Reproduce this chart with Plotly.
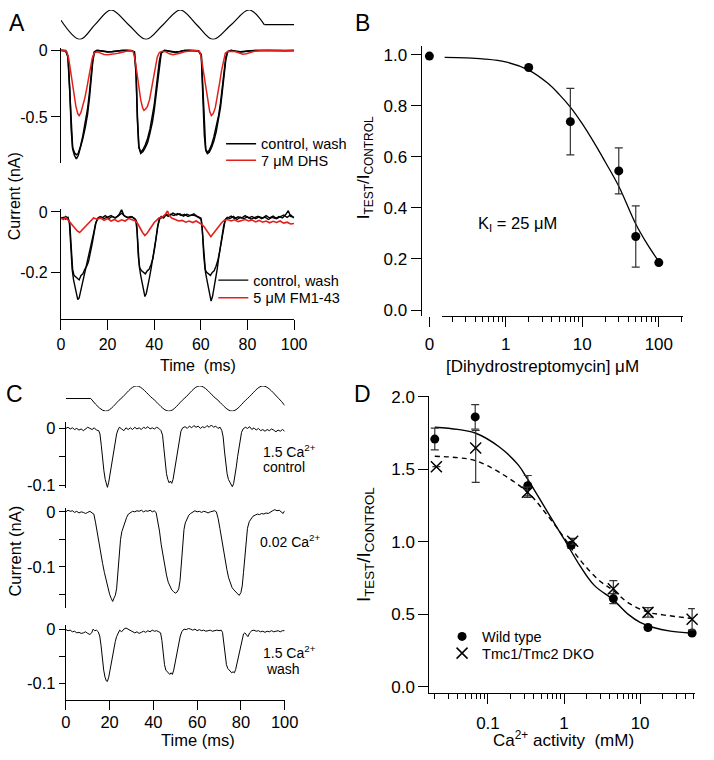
import plotly.graph_objects as go

# ---------------------------------------------------------------- data
# Panel A: stimulus (relative displacement), time in ms
STIM_A = [(0, 0.3), (8.1, -1), (14.6, 0), (21.5, 1), (29.0, 0), (36.5, -1), (43.8, 0),
          (51.2, 1), (58.2, 0), (65.2, -1), (73.0, 0), (80.7, 1), (87.2, 0), (100, 0)]

# Panel A top: currents (nA) – control, wash, 7 uM DHS
DHS_CTRL = [(0, 0.002), (2, -0.003), (3.0, -0.04), (3.8, -0.3), (4.4, -0.6), (5.0, -0.74), (5.8, -0.79),
            (6.6, -0.815), (7.4, -0.79), (8.4, -0.73), (9.4, -0.66), (10.4, -0.58), (11.4, -0.48),
            (12.2, -0.36), (13.0, -0.2), (13.6, -0.09), (14.3, -0.015), (15.5, 0.0), (18, -0.005),
            (20, -0.012), (22, -0.01), (24, -0.004), (26, 0.0), (28, 0.002), (30, 0.0), (31.5, -0.01),
            (32.2, -0.15), (32.8, -0.5), (33.4, -0.72), (34.2, -0.775), (35.2, -0.76), (36.2, -0.73),
            (37.2, -0.69), (38.2, -0.62), (39.2, -0.54), (40.0, -0.45), (40.8, -0.33), (41.6, -0.2),
            (42.2, -0.1), (43.0, -0.02), (44.5, 0.0), (47, -0.008), (49, -0.014), (51, -0.008),
            (53, 0.0), (55, 0.002), (57, 0.0), (59, -0.002), (60.2, -0.03), (60.9, -0.3), (61.5, -0.62),
            (62.1, -0.75), (62.8, -0.775), (63.6, -0.765), (64.6, -0.73), (65.6, -0.68), (66.6, -0.61),
            (67.6, -0.52), (68.4, -0.43), (69.2, -0.31), (70.0, -0.18), (70.7, -0.07), (71.5, -0.01),
            (73, 0.0), (75, -0.006), (77, -0.012), (79, -0.008), (81, -0.002), (84, 0.0), (87, 0.002),
            (90, 0.0), (93, 0.001), (96, -0.002), (100, 0.0)]
DHS_WASH = [(0, 0.0), (2, 0.0), (3.0, -0.05), (3.8, -0.33), (4.4, -0.62), (5.0, -0.73), (5.8, -0.77),
            (6.6, -0.785), (7.4, -0.775), (8.4, -0.72), (9.4, -0.64), (10.4, -0.55), (11.4, -0.44),
            (12.2, -0.32), (13.0, -0.17), (13.6, -0.07), (14.3, -0.01), (15.5, 0.002), (18, -0.004),
            (20, -0.01), (22, -0.008), (24, -0.003), (26, 0.001), (28, 0.0), (30, -0.001), (31.5, -0.012),
            (32.2, -0.18), (32.8, -0.53), (33.4, -0.73), (34.2, -0.765), (35.2, -0.745), (36.2, -0.71),
            (37.2, -0.66), (38.2, -0.59), (39.2, -0.5), (40.0, -0.41), (40.8, -0.29), (41.6, -0.17),
            (42.2, -0.08), (43.0, -0.015), (44.5, 0.001), (47, -0.006), (49, -0.012), (51, -0.007),
            (53, 0.001), (55, 0.0), (57, 0.001), (59, -0.003), (60.2, -0.04), (60.9, -0.33), (61.5, -0.64),
            (62.1, -0.745), (62.8, -0.765), (63.6, -0.75), (64.6, -0.71), (65.6, -0.65), (66.6, -0.58),
            (67.6, -0.49), (68.4, -0.4), (69.2, -0.28), (70.0, -0.15), (70.7, -0.05), (71.5, -0.008),
            (73, 0.001), (75, -0.005), (77, -0.01), (79, -0.006), (81, -0.001), (84, 0.001), (87, 0.0),
            (90, -0.001), (93, 0.0), (96, -0.001), (100, 0.001)]
DHS_DRUG = [(0, 0.002), (1.5, 0.0), (2.5, -0.01), (3.3, -0.06), (4.0, -0.14), (4.8, -0.24), (5.6, -0.34),
            (6.4, -0.42), (7.2, -0.475), (7.8, -0.49), (8.5, -0.47), (9.3, -0.42), (10.2, -0.36),
            (11.0, -0.29), (11.8, -0.21), (12.6, -0.13), (13.4, -0.06), (14.2, -0.02), (15.5, -0.01),
            (17, -0.02), (18.5, -0.03), (20, -0.032), (21.5, -0.03), (23, -0.025), (24.5, -0.02),
            (26, -0.012), (28, -0.005), (30, 0.0), (31.0, -0.01), (31.8, -0.07), (32.6, -0.17),
            (33.4, -0.28), (34.2, -0.37), (35.0, -0.43), (35.6, -0.45), (36.3, -0.44), (37.1, -0.42),
            (38.0, -0.37), (38.9, -0.29), (39.8, -0.2), (40.6, -0.12), (41.3, -0.05), (42.2, -0.015),
            (43.5, -0.005), (45, -0.01), (46.5, -0.025), (48, -0.032), (49.5, -0.028), (51, -0.02),
            (53, -0.01), (55, -0.003), (57, 0.0), (59, -0.003), (59.8, -0.02), (60.6, -0.1), (61.4, -0.2),
            (62.2, -0.3), (63.0, -0.39), (63.8, -0.46), (64.5, -0.49), (65.3, -0.475), (66.2, -0.43),
            (67.1, -0.35), (68.0, -0.25), (68.9, -0.15), (69.7, -0.07), (70.5, -0.02), (71.5, -0.008),
            (73, -0.006), (75, -0.01), (76.5, -0.02), (78, -0.028), (79.5, -0.025), (81, -0.015),
            (83, -0.006), (86, 0.0), (89, 0.002), (92, -0.002), (95, 0.0), (98, 0.002), (100, 0.0)]

# Panel A bottom: currents (nA) – control, wash, 5 uM FM1-43
FM_CTRL = [(0, -0.018), (1, -0.022), (2, -0.015), (3, -0.02), (3.6, -0.035), (4.2, -0.12), (4.8, -0.19),
           (5.4, -0.225), (6.0, -0.245), (6.6, -0.27), (7.2, -0.29), (7.8, -0.285), (8.4, -0.265),
           (9.2, -0.24), (10.0, -0.21), (10.8, -0.185), (11.6, -0.16), (12.4, -0.13), (13.2, -0.1),
           (14.0, -0.07), (14.8, -0.04), (15.6, -0.025), (16.4, -0.018), (17.5, -0.02), (19, -0.012),
           (20.5, -0.022), (22, -0.015), (23.5, -0.02), (25, -0.008), (26, 0.008), (27, -0.012),
           (28.5, -0.018), (30, -0.015), (31.5, -0.022), (32.4, -0.03), (33.0, -0.11), (33.6, -0.18),
           (34.2, -0.21), (34.8, -0.235), (35.4, -0.26), (36.0, -0.28), (36.6, -0.27), (37.2, -0.25),
           (37.9, -0.22), (38.6, -0.19), (39.3, -0.16), (40.0, -0.13), (40.7, -0.09), (41.4, -0.05),
           (42.1, -0.025), (43, -0.015), (44, -0.02), (45, -0.01), (46, -0.015), (47, -0.008),
           (48.5, -0.012), (50, -0.005), (51.5, -0.012), (53, -0.008), (54.5, -0.015), (56, -0.01),
           (57.5, -0.012), (59, -0.018), (60.2, -0.025), (60.8, -0.08), (61.4, -0.16), (62.0, -0.2),
           (62.6, -0.225), (63.2, -0.25), (63.8, -0.28), (64.4, -0.295), (65.0, -0.28), (65.6, -0.255),
           (66.3, -0.225), (67.0, -0.19), (67.7, -0.15), (68.4, -0.11), (69.1, -0.075), (69.8, -0.045),
           (70.5, -0.025), (71.3, -0.018), (72.5, -0.022), (74, -0.015), (75.5, -0.025), (77, -0.018),
           (78.5, -0.022), (80, -0.016), (81.5, -0.024), (83, -0.02), (84.5, -0.014), (86, -0.022),
           (87.5, -0.017), (89, -0.025), (90.5, -0.018), (92, -0.022), (93.5, -0.015), (95, -0.02),
           (96.5, -0.008), (97.5, 0.004), (98.5, -0.015), (100, -0.018)]
FM_WASH = [(0, -0.022), (1, -0.018), (2, -0.024), (3, -0.018), (3.8, -0.04), (4.4, -0.13), (5.0, -0.19),
           (5.6, -0.21), (6.2, -0.215), (7.0, -0.22), (7.8, -0.225), (8.6, -0.21), (9.4, -0.205),
           (10.2, -0.19), (11.0, -0.18), (11.8, -0.165), (12.6, -0.14), (13.4, -0.105), (14.2, -0.07),
           (15.0, -0.035), (15.8, -0.02), (17, -0.015), (18.5, -0.022), (20, -0.018), (21.5, -0.012),
           (23, -0.02), (24.5, -0.014), (26, -0.004), (27.5, -0.015), (29, -0.02), (30.5, -0.016),
           (32, -0.025), (32.6, -0.06), (33.2, -0.15), (33.8, -0.185), (34.6, -0.195), (35.4, -0.2),
           (36.2, -0.205), (37.0, -0.195), (37.8, -0.19), (38.6, -0.175), (39.4, -0.155), (40.2, -0.12),
           (40.9, -0.08), (41.6, -0.045), (42.4, -0.022), (43.5, -0.018), (45, -0.008), (46.5, -0.012),
           (48, -0.004), (49.5, -0.01), (51, -0.006), (52.5, -0.014), (54, -0.008), (55.5, -0.012),
           (57, -0.006), (58.5, -0.015), (60, -0.02), (60.6, -0.05), (61.2, -0.14), (61.8, -0.19),
           (62.5, -0.2), (63.3, -0.205), (64.1, -0.21), (64.9, -0.2), (65.7, -0.195), (66.5, -0.18),
           (67.3, -0.16), (68.1, -0.13), (68.9, -0.09), (69.7, -0.05), (70.5, -0.025), (71.5, -0.02),
           (73, -0.014), (74.5, -0.022), (76, -0.016), (77.5, -0.02), (79, -0.012), (80.5, -0.02),
           (82, -0.015), (83.5, -0.022), (85, -0.016), (86.5, -0.02), (88, -0.012), (89.5, -0.02),
           (91, -0.014), (92.5, -0.022), (94, -0.016), (95.5, -0.01), (97, -0.018), (98.5, -0.01),
           (100, -0.02)]
FM_DRUG = [(0, -0.02), (1, -0.025), (2, -0.018), (3, -0.025), (4, -0.035), (5, -0.045), (6, -0.055),
           (7, -0.063), (8, -0.068), (9, -0.06), (10, -0.05), (11, -0.042), (12, -0.033), (13, -0.025),
           (14, -0.02), (15.5, -0.024), (17, -0.02), (18.5, -0.028), (20, -0.022), (21.5, -0.03),
           (23, -0.025), (24.5, -0.032), (26, -0.026), (27.5, -0.03), (29, -0.022), (30.5, -0.026),
           (32, -0.03), (33, -0.04), (34, -0.055), (35, -0.068), (36, -0.078), (37, -0.07), (38, -0.058),
           (39, -0.045), (40, -0.035), (41, -0.028), (42, -0.02), (43, -0.018), (44, -0.014),
           (45, -0.006), (45.7, 0.003), (46.5, -0.012), (47.5, -0.02), (49, -0.025), (50.5, -0.03),
           (52, -0.028), (53.5, -0.034), (55, -0.03), (56.5, -0.035), (58, -0.03), (59.5, -0.036),
           (60.5, -0.042), (61.5, -0.05), (62.5, -0.062), (63.5, -0.075), (64.3, -0.082), (65, -0.075),
           (66, -0.065), (67, -0.052), (68, -0.042), (69, -0.035), (70, -0.028), (71.5, -0.025),
           (73, -0.03), (74.5, -0.026), (76, -0.032), (77.5, -0.028), (79, -0.025), (80.5, -0.03),
           (82, -0.027), (83.5, -0.033), (85, -0.028), (86.5, -0.034), (88, -0.03), (89.5, -0.036),
           (91, -0.031), (92.5, -0.035), (94, -0.03), (95.5, -0.037), (97, -0.034), (98.5, -0.04),
           (100, -0.038)]

# Panel B: dose-response to dihydrostreptomycin
B_ZERO_RATIO = [0.995]
B_CONC = [2, 7, 30, 50, 100]
B_RATIO = [0.95, 0.738, 0.545, 0.288, 0.186]
B_ERR = [0, 0.13, 0.09, 0.12, 0]
B_FIT = [(0.16, 0.99), (0.3, 0.988), (0.5, 0.984), (1, 0.972), (2, 0.94), (3.5, 0.89), (5, 0.845),
         (7, 0.795), (10, 0.73), (15, 0.645), (20, 0.58), (30, 0.485), (50, 0.337), (70, 0.26),
         (100, 0.19)]
B_XTICKS = [1, 10, 100]
B_XMINOR = [0.2, 0.3, 0.4, 0.5, 0.6, 0.7, 0.8, 0.9, 2, 3, 4, 5, 6, 7, 8, 9,
            20, 30, 40, 50, 60, 70, 80, 90, 200]

# Panel C: stimulus and currents (nA)
STIM_C = [(0, 0), (11.4, 0), (18.2, -1), (25.2, 0), (32.3, 1), (39.7, 0), (47.1, -1), (54.1, 0),
          (61.2, 1), (68.6, 0), (76.0, -1), (83.0, 0), (90.1, 1), (97.3, 0), (100, -0.55)]
CA_CTRL = [(0, 0.0), (1, 0.002), (2, -0.001), (3, 0.001), (4, -0.002), (5, 0.0), (6, -0.003), (7, -0.001),
           (8, -0.004), (9, -0.001), (10, 0.002), (11, 0.0), (12, -0.002), (13, 0.001), (14, -0.003),
           (15, -0.004), (15.6, -0.01), (16.2, -0.03), (16.8, -0.055), (17.4, -0.075), (18.0, -0.09),
           (18.6, -0.1), (19.0, -0.104), (19.6, -0.095), (20.2, -0.08), (20.8, -0.065), (21.4, -0.05),
           (22.0, -0.035), (22.6, -0.022), (23.2, -0.01), (23.8, -0.003), (24.5, 0.002), (25.5, -0.001),
           (26.5, -0.004), (27.5, 0.001), (28.5, -0.002), (29.5, 0.001), (30.5, -0.002), (31.5, 0.002),
           (32.5, -0.001), (33.5, 0.001), (34.5, -0.002), (35.5, 0.002), (36.5, 0.0), (37.5, 0.003),
           (38.5, -0.001), (39.5, 0.001), (40.5, -0.001), (41.5, 0.002), (42.5, 0.0), (43.5, -0.004),
           (44.2, -0.012), (44.8, -0.035), (45.4, -0.06), (46.0, -0.08), (46.6, -0.09), (47.2, -0.096),
           (47.8, -0.093), (48.4, -0.097), (49.0, -0.09), (49.6, -0.075), (50.2, -0.058), (50.8, -0.042),
           (51.4, -0.027), (52.0, -0.014), (52.6, -0.005), (53.4, 0.001), (54.5, 0.003), (55.5, 0.0),
           (56.5, 0.004), (57.5, 0.001), (58.5, 0.005), (59.5, 0.002), (60.5, 0.004), (61.5, 0.0),
           (62.5, 0.003), (63.5, 0.001), (64.5, 0.005), (65.5, 0.002), (66.5, 0.006), (67.5, 0.002),
           (68.5, 0.004), (69.5, 0.0), (70.5, 0.002), (71.3, -0.004), (71.9, -0.015), (72.5, -0.04),
           (73.1, -0.065), (73.7, -0.08), (74.3, -0.09), (74.9, -0.095), (75.5, -0.1), (76.1, -0.103),
           (76.7, -0.097), (77.3, -0.085), (77.9, -0.068), (78.5, -0.05), (79.1, -0.033), (79.7, -0.018),
           (80.3, -0.007), (81.0, -0.001), (82, 0.002), (83, 0.0), (84, 0.003), (85, -0.002), (86, 0.001),
           (87, -0.003), (88, 0.0), (89, -0.004), (90, -0.002), (91, -0.005), (92, -0.002), (93, -0.004),
           (94, -0.001), (95, -0.003), (96, -0.006), (97, -0.003), (98, -0.005), (99, -0.002),
           (100, -0.005)]
CA_LOW = [(0, 0.0), (1, 0.003), (2, 0.001), (3, 0.002), (4, -0.001), (5, 0.001), (6, -0.002), (7, 0.0),
          (8, -0.001), (9, -0.003), (10, -0.001), (11, 0.001), (12, -0.002), (12.8, -0.004),
          (13.6, -0.02), (14.4, -0.04), (15.2, -0.058), (16.0, -0.076), (16.8, -0.094), (17.6, -0.11),
          (18.4, -0.125), (19.2, -0.138), (20.0, -0.15), (20.8, -0.158), (21.4, -0.163), (22.0, -0.157),
          (22.6, -0.152), (23.2, -0.14), (23.8, -0.11), (24.4, -0.075), (25.0, -0.05), (25.6, -0.036),
          (26.3, -0.028), (27.0, -0.018), (27.8, -0.01), (28.6, -0.004), (29.5, -0.001), (30.5, 0.001),
          (31.5, 0.0), (32.5, 0.002), (33.5, 0.001), (34.5, 0.003), (35.5, 0.0), (36.5, 0.002),
          (37.5, 0.001), (38.5, 0.003), (39.5, 0.0), (40.5, 0.002), (41.3, -0.002), (42.0, -0.015),
          (42.8, -0.035), (43.6, -0.06), (44.4, -0.08), (45.2, -0.098), (46.0, -0.115), (46.8, -0.128),
          (47.6, -0.136), (48.4, -0.142), (49.2, -0.145), (50.0, -0.148), (50.8, -0.146), (51.6, -0.14),
          (52.2, -0.125), (52.8, -0.09), (53.4, -0.055), (54.0, -0.032), (54.6, -0.02), (55.4, -0.012),
          (56.2, -0.006), (57.0, -0.003), (58, 0.0), (59, 0.002), (60, 0.0), (61, 0.001), (62, -0.001),
          (63, 0.001), (64, 0.0), (65, -0.002), (66, 0.0), (67, 0.001), (68, 0.002), (68.8, 0.0),
          (69.6, -0.012), (70.4, -0.03), (71.2, -0.05), (72.0, -0.068), (72.8, -0.088), (73.6, -0.105),
          (74.4, -0.12), (75.2, -0.13), (76.0, -0.138), (76.8, -0.142), (77.6, -0.145), (78.4, -0.148),
          (79.2, -0.152), (80.0, -0.147), (80.6, -0.135), (81.2, -0.11), (81.8, -0.08), (82.4, -0.05),
          (83.0, -0.03), (83.8, -0.018), (84.6, -0.012), (85.5, -0.008), (86.5, -0.006), (87.5, -0.004),
          (88.5, -0.005), (89.5, -0.003), (90.5, -0.004), (91.5, -0.002), (92.5, -0.003), (93.5, 0.0),
          (94.5, 0.002), (95.5, 0.004), (96.5, 0.002), (97.5, 0.003), (98.5, 0.0), (99.3, -0.003),
          (100, 0.002)]
CA_WASH = [(0, 0.0), (1, -0.002), (2, -0.001), (3, -0.004), (4, -0.003), (5, -0.006), (6, -0.005),
           (7, -0.007), (8, -0.006), (9, -0.004), (10, -0.007), (11, -0.009), (11.8, -0.006),
           (12.5, 0.001), (13.2, -0.002), (14, -0.001), (14.8, -0.004), (15.5, -0.012), (16.1, -0.03),
           (16.7, -0.055), (17.3, -0.075), (17.9, -0.088), (18.5, -0.095), (19.0, -0.096), (19.6, -0.088),
           (20.2, -0.075), (20.8, -0.06), (21.4, -0.045), (22.0, -0.032), (22.6, -0.022), (23.2, -0.013),
           (23.9, -0.006), (24.6, -0.001), (25.5, -0.004), (26.5, 0.001), (27.5, 0.003), (28.5, 0.001),
           (29.5, -0.002), (30.5, -0.004), (31.5, -0.006), (32.5, -0.004), (33.5, -0.007), (34.5, -0.005),
           (35.5, -0.003), (36.5, -0.005), (37.5, -0.002), (38.5, -0.004), (39.5, -0.001), (40.5, -0.003),
           (41.5, -0.002), (42.5, -0.004), (43.3, -0.006), (43.9, -0.02), (44.5, -0.045), (45.1, -0.065),
           (45.7, -0.075), (46.3, -0.078), (46.9, -0.081), (47.5, -0.083), (48.1, -0.08), (48.7, -0.083),
           (49.3, -0.075), (49.9, -0.062), (50.5, -0.048), (51.1, -0.034), (51.7, -0.022), (52.3, -0.012),
           (53.0, -0.004), (54, 0.001), (55, 0.0), (56, 0.002), (57, 0.001), (58, -0.001), (59, 0.001),
           (60, -0.002), (61, 0.0), (62, -0.002), (63, -0.001), (64, -0.003), (65, -0.002), (66, -0.001),
           (67, -0.003), (68, -0.002), (69, -0.001), (70, -0.002), (71, -0.001), (71.6, -0.005),
           (72.2, -0.025), (72.8, -0.05), (73.4, -0.065), (74.0, -0.072), (74.6, -0.075), (75.2, -0.077),
           (75.8, -0.08), (76.4, -0.078), (77.0, -0.08), (77.6, -0.074), (78.2, -0.063), (78.8, -0.05),
           (79.4, -0.036), (80.0, -0.024), (80.6, -0.014), (81.2, -0.008), (81.8, -0.006), (82.5, -0.01),
           (83.2, -0.013), (84, -0.006), (85, -0.002), (86, -0.001), (87, -0.003), (88, -0.002),
           (89, -0.004), (90, -0.003), (91, -0.005), (92, -0.003), (93, -0.004), (94, -0.002),
           (95, -0.004), (96, -0.003), (97, -0.002), (98, -0.004), (99, -0.002), (100, -0.002)]

# Panel D: Ca2+ dependence
D_CA_WT = [0.02, 0.068, 0.334, 1.24, 4.45, 12.7, 48.3]
D_WT = [1.708, 1.861, 1.387, 0.977, 0.609, 0.41, 0.372]
D_WT_ERR = [0.075, 0.085, 0.07, 0.02, 0.035, 0.015, 0.015]
D_CA_KO = [0.021, 0.069, 0.33, 1.3, 4.45, 12.7, 48.3]
D_KO = [1.518, 1.647, 1.342, 1.004, 0.677, 0.514, 0.467]
D_KO_ERR_UP = [0, 0.12, 0.035, 0.02, 0.056, 0.033, 0.073]
D_KO_ERR_DN = [0, 0.237, 0.035, 0.02, 0.034, 0.033, 0.073]
D_FIT_WT = [(0.02, 1.79), (0.04, 1.775), (0.068, 1.75), (0.14, 1.655), (0.25, 1.53), (0.334, 1.43),
            (0.6, 1.21), (1.0, 1.02), (1.6, 0.84), (2.5, 0.7), (4.45, 0.6), (7, 0.5), (10, 0.445),
            (15, 0.41), (25, 0.385), (48, 0.37)]
D_FIT_KO = [(0.02, 1.59), (0.04, 1.58), (0.068, 1.56), (0.14, 1.48), (0.334, 1.34), (0.6, 1.185),
            (1.0, 1.03), (1.6, 0.88), (2.88, 0.735), (4.45, 0.665), (7, 0.58), (12.7, 0.515), (20, 0.497),
            (48, 0.472)]
D_XTICKS = [0.1, 1, 10]
D_XMINOR = [0.02, 0.03, 0.04, 0.05, 0.06, 0.07, 0.08, 0.09, 0.2, 0.3, 0.4, 0.5, 0.6, 0.7, 0.8, 0.9,
            2, 3, 4, 5, 6, 7, 8, 9, 20, 30, 40, 50]
TIME_TICKS = [0, 20, 40, 60, 80, 100]

# ---------------------------------------------------------------- helpers
W, H = 714, 760
FONT = "Liberation Sans, Arial, sans-serif"


def xd(a, b):
    return [a / W, b / W]


def yd(top, bottom):
    return [1 - bottom / H, 1 - top / H]


def px(x):
    return x / W


def py(y):
    return 1 - y / H


def unzip(pairs):
    return [p[0] for p in pairs], [p[1] for p in pairs]


def axis(size=16, ticklen=9, **kw):
    d = dict(showgrid=False, zeroline=False, showline=True, linecolor="black", linewidth=1,
             ticks="outside", ticklen=ticklen, tickcolor="black", tickwidth=1,
             tickfont=dict(size=size, color="black", family=FONT), fixedrange=True)
    d.update(kw)
    return d


def hidden(**kw):
    d = dict(visible=False, showgrid=False, zeroline=False, fixedrange=True)
    d.update(kw)
    return d


fig = go.Figure()


def line(pairs, xa, ya, color="black", width=1.3, shape="linear", dash="solid", **kw):
    x, y = unzip(pairs)
    fig.add_trace(go.Scatter(x=x, y=y, mode="lines", xaxis=xa, yaxis=ya,
                             line=dict(color=color, width=width, shape=shape, dash=dash,
                                       smoothing=1.0 if shape == "spline" else None),
                             hoverinfo="skip", **kw))


RED = "#e3201b"

# ---- Panel A
line(STIM_A[:-1], "x", "y", shape="spline", width=1.2, showlegend=False)
line(STIM_A[-2:], "x", "y", width=1.2, showlegend=False)

line(DHS_WASH, "x2", "y2", width=1.5, showlegend=False)
line(DHS_CTRL, "x2", "y2", width=1.5, name="control, wash", legend="legend")
line(DHS_DRUG, "x2", "y2", color=RED, width=1.5, name="7 \u03bcM DHS", legend="legend2")

line(FM_WASH, "x3", "y3", width=1.4, showlegend=False)
line(FM_CTRL, "x3", "y3", width=1.4, name="control, wash", legend="legend3")
line(FM_DRUG, "x3", "y3", color=RED, width=1.6, name="5 \u03bcM FM1-43", legend="legend4")

# ---- Panel B
line(B_FIT, "x4", "y4", width=1.3, shape="spline", showlegend=False)
fig.add_trace(go.Scatter(x=B_CONC, y=B_RATIO, mode="markers", xaxis="x4", yaxis="y4",
                         marker=dict(symbol="circle", size=9, color="black"),
                         error_y=dict(type="data", array=B_ERR, color="#333333", thickness=1.2, width=4),
                         showlegend=False, hoverinfo="skip", cliponaxis=False))
fig.add_trace(go.Scatter(x=[0], y=B_ZERO_RATIO, mode="markers", xaxis="x5", yaxis="y4",
                         marker=dict(symbol="circle", size=9, color="black"),
                         showlegend=False, hoverinfo="skip", cliponaxis=False))

# ---- Panel C
line(STIM_C[:2], "x6", "y6", width=1.0, showlegend=False)
line(STIM_C[1:], "x6", "y6", width=1.0, shape="spline", showlegend=False)
line(CA_CTRL, "x7", "y7", width=1.0, showlegend=False)
line(CA_LOW, "x8", "y8", width=1.0, showlegend=False)
line(CA_WASH, "x9", "y9", width=1.0, showlegend=False)

# ---- Panel D
line(D_FIT_WT, "x10", "y10", width=1.4, shape="spline", showlegend=False)
line(D_FIT_KO, "x10", "y10", width=1.4, shape="spline", dash="5px,4px", showlegend=False)
fig.add_trace(go.Scatter(x=D_CA_WT, y=D_WT, mode="markers", xaxis="x10", yaxis="y10",
                         name="Wild type", legend="legend5",
                         marker=dict(symbol="circle", size=9, color="black"),
                         error_y=dict(type="data", array=D_WT_ERR, color="#333333", thickness=1.2, width=4),
                         hoverinfo="skip", cliponaxis=False))
fig.add_trace(go.Scatter(x=D_CA_KO, y=D_KO, mode="markers", xaxis="x10", yaxis="y10",
                         name="Tmc1/Tmc2 DKO", legend="legend6",
                         marker=dict(symbol="x-thin-open", size=11, color="black",
                                     line=dict(color="black", width=1.5)),
                         error_y=dict(type="data", symmetric=False, array=D_KO_ERR_UP,
                                      arrayminus=D_KO_ERR_DN, color="#333333", thickness=1.2, width=4),
                         hoverinfo="skip", cliponaxis=False))

# ---------------------------------------------------------------- layout
A_X = xd(57.5, 297.0)
C_X = xd(62.5, 287.3)
leg_common = dict(bgcolor="rgba(0,0,0,0)", font=dict(size=14.5, color="black", family=FONT),
                  xanchor="left", yanchor="top", tracegroupgap=0, itemwidth=30,
                  traceorder="normal")
C_MINOR = dict(ticks="outside", ticklen=6, tickcolor="black", showgrid=False)

fig.update_layout(
    width=W, height=H, margin=dict(l=0, r=0, t=0, b=0),
    paper_bgcolor="white", plot_bgcolor="rgba(0,0,0,0)",
    font=dict(family=FONT, color="black"),
    showlegend=True,
    # Panel A
    xaxis=hidden(domain=A_X, range=[0, 100], anchor="y"),
    yaxis=hidden(domain=yd(2, 32), range=[-1, 1], anchor="x"),
    xaxis2=hidden(domain=A_X, range=[0, 100], anchor="y2"),
    yaxis2=axis(domain=yd(40.6, 158.4), range=[-0.85, 0.02], anchor="x2",
                tickvals=[0, -0.5], ticktext=["0", "-0.5"]),
    xaxis3=axis(domain=A_X, range=[0, 100], anchor="y3", tickvals=TIME_TICKS, ticklen=10,
                ticklabelstandoff=1),
    yaxis3=axis(domain=yd(205, 316.7), range=[-0.354, 0.009], anchor="x3",
                tickvals=[0, -0.2], ticktext=["0", "-0.2"]),
    # Panel B
    xaxis4=axis(size=17, type="log", domain=xd(448.7, 697), range=[-0.8336, 2.3215], anchor="y4",
                tickvals=B_XTICKS, ticktext=["1", "10", "100"], ticklen=10, ticklabelstandoff=3,
                minor=dict(tickvals=B_XMINOR, ticklen=5, ticks="outside", tickcolor="black",
                           showgrid=False)),
    xaxis5=axis(size=17, domain=xd(431, 441), range=[-1, 1], anchor="y4", showline=False,
                tickvals=[0], ticktext=["0"], ticklen=10, ticklabelstandoff=3),
    yaxis4=axis(size=17, domain=yd(38.3, 313.3), range=[-0.0215, 1.036], anchor="free",
                position=px(427), tickvals=[0, 0.2, 0.4, 0.6, 0.8, 1.0],
                ticktext=["0.0", "0.2", "0.4", "0.6", "0.8", "1.0"], ticklen=10),
    # Panel C
    xaxis6=hidden(domain=C_X, range=[0, 100], anchor="y6"),
    yaxis6=hidden(domain=yd(385, 410.7), range=[-1, 1], anchor="x6"),
    xaxis7=hidden(domain=C_X, range=[0, 100], anchor="y7"),
    yaxis7=axis(size=16.5, domain=yd(421.7, 488.9), range=[-0.105, 0.0114], anchor="x7",
                tickvals=[0, -0.1], ticktext=["0", "-0.1"], ticklen=6,
                minor=dict(C_MINOR, tickvals=[-0.05])),
    xaxis8=hidden(domain=C_X, range=[0, 100], anchor="y8"),
    yaxis8=axis(size=16.5, domain=yd(509, 611.7), range=[-0.1757, 0.0077], anchor="x8",
                tickvals=[0, -0.1], ticktext=["0", "-0.1"], ticklen=6,
                minor=dict(C_MINOR, tickvals=[-0.05, -0.15])),
    xaxis9=axis(size=16.5, domain=C_X, range=[0, 100], anchor="y9", tickvals=TIME_TICKS,
                ticklen=9, ticklabelstandoff=-2),
    yaxis9=axis(size=16.5, domain=yd(628.5, 705), range=[-0.1304, 0.0087], anchor="x9",
                tickvals=[0, -0.1], ticktext=["0", "-0.1"], ticklen=6,
                minor=dict(C_MINOR, tickvals=[-0.05])),
    # Panel D
    xaxis10=axis(size=17, type="log", domain=xd(436, 708.7), range=[-1.7697, 1.7198], anchor="y10",
                 tickvals=D_XTICKS, ticktext=["0.1", "1", "10"], ticklen=10, ticklabelstandoff=4,
                 minor=dict(tickvals=D_XMINOR, ticklen=5, ticks="outside", tickcolor="black",
                            showgrid=False)),
    yaxis10=axis(size=17, domain=yd(395, 698.3), range=[-0.0446, 2.0068], anchor="x10",
                 tickvals=[0, 0.5, 1.0, 1.5, 2.0], ticktext=["0.0", "0.5", "1.0", "1.5", "2.0"],
                 ticklen=10),
    # one legend per entry so each key sits where the reference shows it
    legend=dict(leg_common, x=px(222), y=py(122)),
    legend2=dict(leg_common, x=px(222), y=py(139)),
    legend3=dict(leg_common, x=px(214), y=py(261)),
    legend4=dict(leg_common, x=px(214), y=py(279)),
    legend5=dict(leg_common, x=px(449), y=py(624)),
    legend6=dict(leg_common, x=px(449), y=py(641)),
)


def ann(text, x, y, size=16, angle=0, xanchor="center"):
    fig.add_annotation(text=text, x=px(x), y=py(y), xref="paper", yref="paper",
                       showarrow=False, textangle=angle, xanchor=xanchor, yanchor="middle",
                       font=dict(size=size, color="black", family=FONT))


# panel letters
ann("A", 12, 15, size=23)
ann("B", 367, 15, size=23)
ann("C", 10, 393, size=23)
ann("D", 367, 393, size=23)

# axis titles
ann("Current (nA)", 10, 192, size=16, angle=-90)
ann("Time  (ms)", 198, 364, size=16)
ann("I<sub>TEST</sub>/I<sub>CONTROL</sub>", 370, 163, size=17, angle=-90)
ann("[Dihydrostreptomycin] \u03bcM", 552, 365, size=17)
ann("K<sub>I</sub> = 25 \u03bcM", 527, 220, size=16.5)
ann("Current (nA)", 10, 553, size=16.5, angle=-90)
ann("Time (ms)", 198, 746, size=16.5)
ann("I<sub>TEST</sub>/I<sub>CONTROL</sub>", 370, 547, size=19, angle=-90)
ann("Ca<sup>2+</sup> activity  (mM)", 574, 745, size=17)

# panel C condition labels
ann("1.5 Ca<sup>2+</sup>", 263, 451, size=14, xanchor="left")
ann("control", 263, 468, size=14, xanchor="left")
ann("0.02 Ca<sup>2+</sup>", 260, 543, size=14, xanchor="left")
ann("1.5 Ca<sup>2+</sup>", 263, 656, size=14, xanchor="left")
ann(" wash", 263, 673, size=14, xanchor="left")

fig.write_html("out.html", config={"displayModeBar": False, "staticPlot": True},
               post_script="document.body.style.margin='0';document.body.style.overflow='hidden';")
